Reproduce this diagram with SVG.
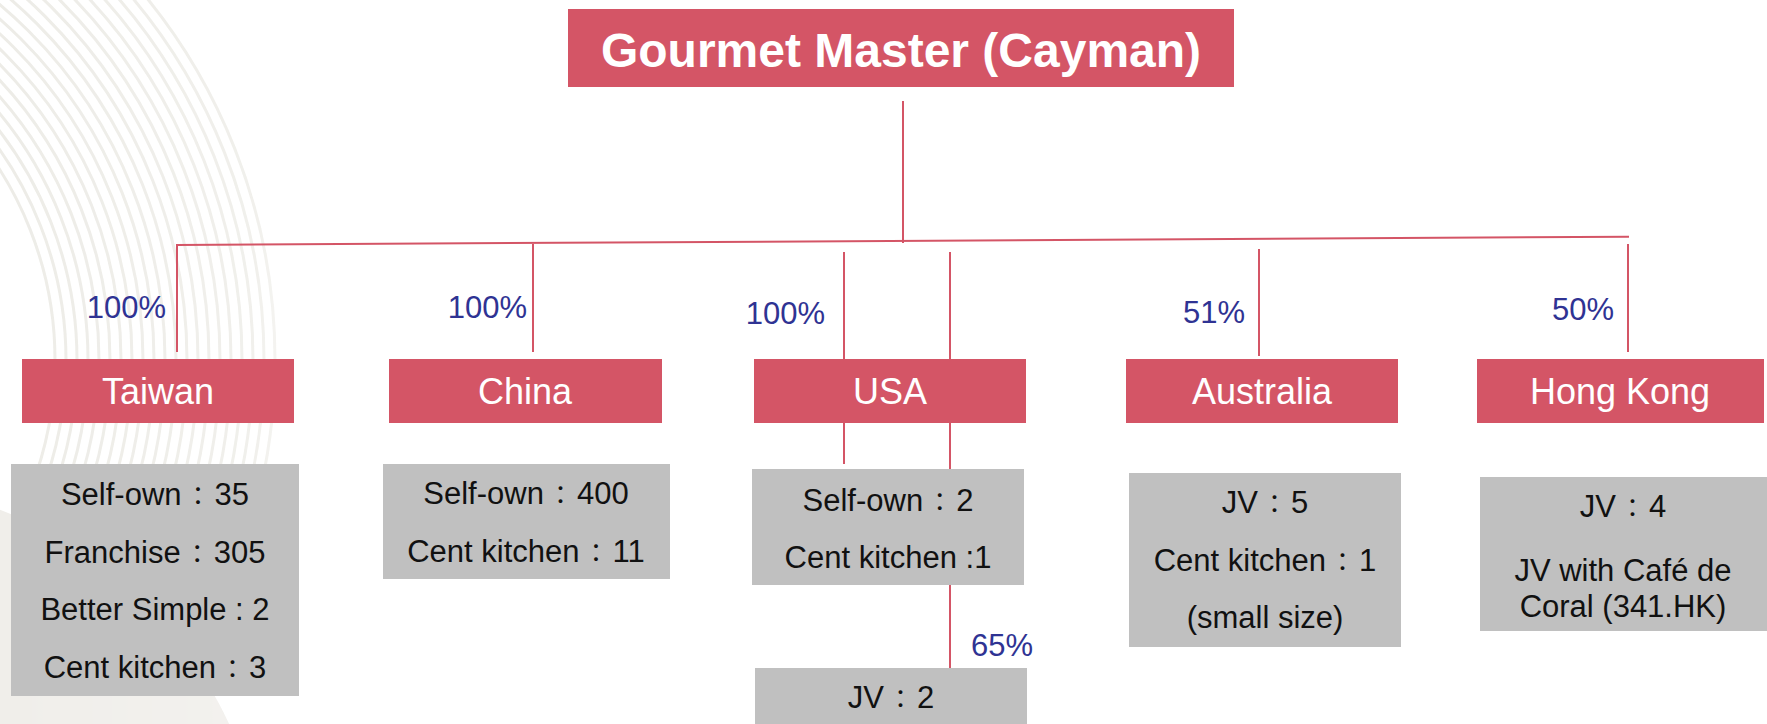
<svg xmlns="http://www.w3.org/2000/svg" width="1767" height="724" viewBox="0 0 1767 724">
<style>
.red{fill:#d45566}
.gray{fill:#c0c0c0}
.title{font-family:"Liberation Sans",Arial,sans-serif;font-weight:bold;font-size:48px;fill:#fff;text-anchor:middle}
.hd{font-family:"Liberation Sans",Arial,"Noto Sans CJK TC",sans-serif;font-size:36px;fill:#fff;text-anchor:middle}
.tx{font-family:"Liberation Sans",Arial,"Noto Sans CJK TC",sans-serif;font-size:31px;fill:#111;text-anchor:middle}
.c{font-size:25px}
.pc{font-family:"Liberation Sans",Arial,sans-serif;font-size:31px;fill:#2f3393;text-anchor:end}
.ln{stroke:#d45566;stroke-width:2;fill:none}
.ring{fill:none;stroke:#edece7;stroke-width:3}
</style>
<defs>
<clipPath id="clipL"><rect x="0" y="0" width="340" height="724"/></clipPath>
<linearGradient id="fade" x1="0" y1="0" x2="1" y2="0">
<stop offset="0" stop-color="#fff" stop-opacity="1"/>
<stop offset="0.75" stop-color="#fff" stop-opacity="0.8"/>
<stop offset="1" stop-color="#fff" stop-opacity="0"/>
</linearGradient>
<mask id="fm"><rect x="0" y="0" width="340" height="724" fill="url(#fade)"/></mask>
</defs>
<rect x="0" y="0" width="1767" height="724" fill="#fff"/>
<g id="background" clip-path="url(#clipL)" mask="url(#fm)">
<g class="ring">
<circle cx="-300" cy="360" r="355"/>
<circle cx="-300" cy="360" r="366"/>
<circle cx="-300" cy="360" r="377"/>
<circle cx="-300" cy="360" r="388"/>
<circle cx="-300" cy="360" r="399"/>
<circle cx="-300" cy="360" r="410"/>
<circle cx="-300" cy="360" r="421"/>
<circle cx="-300" cy="360" r="432"/>
<circle cx="-300" cy="360" r="443"/>
<circle cx="-300" cy="360" r="454"/>
<circle cx="-300" cy="360" r="465"/>
<circle cx="-300" cy="360" r="476"/>
<circle cx="-300" cy="360" r="487"/>
<circle cx="-300" cy="360" r="498"/>
<circle cx="-300" cy="360" r="509"/>
<circle cx="-300" cy="360" r="520"/>
<circle cx="-300" cy="360" r="531"/>
<circle cx="-300" cy="360" r="542"/>
<circle cx="-300" cy="360" r="553"/>
<circle cx="-300" cy="360" r="564"/>
<circle cx="-300" cy="360" r="575"/>
</g>
<circle cx="-150" cy="900" r="418" fill="#f0eeea"/>
</g>
<g id="connectors">
<line class="ln" x1="903" y1="101" x2="903" y2="243"/>
<line class="ln" x1="176" y1="245" x2="1629" y2="236.7"/>
<line class="ln" x1="177" y1="245" x2="177" y2="352"/>
<line class="ln" x1="533" y1="244" x2="533" y2="352"/>
<line class="ln" x1="844" y1="252" x2="844" y2="359"/>
<line class="ln" x1="950" y1="252" x2="950" y2="359"/>
<line class="ln" x1="844" y1="423" x2="844" y2="464"/>
<line class="ln" x1="950" y1="423" x2="950" y2="469"/>
<line class="ln" x1="950" y1="585" x2="950" y2="668"/>
<line class="ln" x1="1259" y1="249" x2="1259" y2="356"/>
<line class="ln" x1="1628" y1="244" x2="1628" y2="352"/>
</g>
<g id="labels">
<text class="pc" x="166" y="318">100%</text>
<text class="pc" x="527" y="318">100%</text>
<text class="pc" x="825" y="324">100%</text>
<text class="pc" x="1245" y="323">51%</text>
<text class="pc" x="1614" y="320">50%</text>
<text class="pc" x="1033" y="656">65%</text>
</g>
<g id="node-root">
<rect class="red" x="568" y="9" width="666" height="78"/>
<text class="title" x="901" y="67">Gourmet Master (Cayman)</text>
</g>
<g id="node-taiwan">
<rect class="red" x="22" y="359" width="272" height="64"/>
<text class="hd" x="158" y="404">Taiwan</text>
</g>
<g id="node-china">
<rect class="red" x="389" y="359" width="273" height="64"/>
<text class="hd" x="525" y="404">China</text>
</g>
<g id="node-usa">
<rect class="red" x="754" y="359" width="272" height="64"/>
<text class="hd" x="890" y="404">USA</text>
</g>
<g id="node-australia">
<rect class="red" x="1126" y="359" width="272" height="64"/>
<text class="hd" x="1262" y="404">Australia</text>
</g>
<g id="node-hongkong">
<rect class="red" x="1477" y="359" width="287" height="64"/>
<text class="hd" x="1620" y="404">Hong Kong</text>
</g>
<g id="info-taiwan">
<rect class="gray" x="11" y="464" width="288" height="232"/>
<text class="tx" x="155" y="505">Self-own<tspan class="c" dx="4">：</tspan><tspan dx="4">35</tspan></text>
<text class="tx" x="155" y="563">Franchise<tspan class="c" dx="4">：</tspan><tspan dx="4">305</tspan></text>
<text class="tx" x="155" y="620">Better Simple : 2</text>
<text class="tx" x="155" y="678">Cent kitchen<tspan class="c" dx="4">：</tspan><tspan dx="4">3</tspan></text>
</g>
<g id="info-china">
<rect class="gray" x="383" y="464" width="287" height="115"/>
<text class="tx" x="526" y="504">Self-own<tspan class="c" dx="4">：</tspan><tspan dx="4">400</tspan></text>
<text class="tx" x="526" y="562">Cent kitchen<tspan class="c" dx="4">：</tspan><tspan dx="4">11</tspan></text>
</g>
<g id="info-usa">
<rect class="gray" x="752" y="469" width="272" height="116"/>
<text class="tx" x="888" y="511">Self-own<tspan class="c" dx="4">：</tspan><tspan dx="4">2</tspan></text>
<text class="tx" x="888" y="568">Cent kitchen :1</text>
</g>
<g id="info-usa-jv">
<rect class="gray" x="755" y="668" width="272" height="60"/>
<text class="tx" x="891" y="708">JV<tspan class="c" dx="4">：</tspan><tspan dx="4">2</tspan></text>
</g>
<g id="info-australia">
<rect class="gray" x="1129" y="473" width="272" height="174"/>
<text class="tx" x="1265" y="513">JV<tspan class="c" dx="4">：</tspan><tspan dx="4">5</tspan></text>
<text class="tx" x="1265" y="571">Cent kitchen<tspan class="c" dx="4">：</tspan><tspan dx="4">1</tspan></text>
<text class="tx" x="1265" y="628">(small size)</text>
</g>
<g id="info-hongkong">
<rect class="gray" x="1480" y="477" width="290" height="154"/>
<text class="tx" x="1623" y="517">JV<tspan class="c" dx="4">：</tspan><tspan dx="4">4</tspan></text>
<text class="tx" x="1623" y="581">JV with Café de</text>
<text class="tx" x="1623" y="617">Coral (341.HK)</text>
</g>
</svg>
